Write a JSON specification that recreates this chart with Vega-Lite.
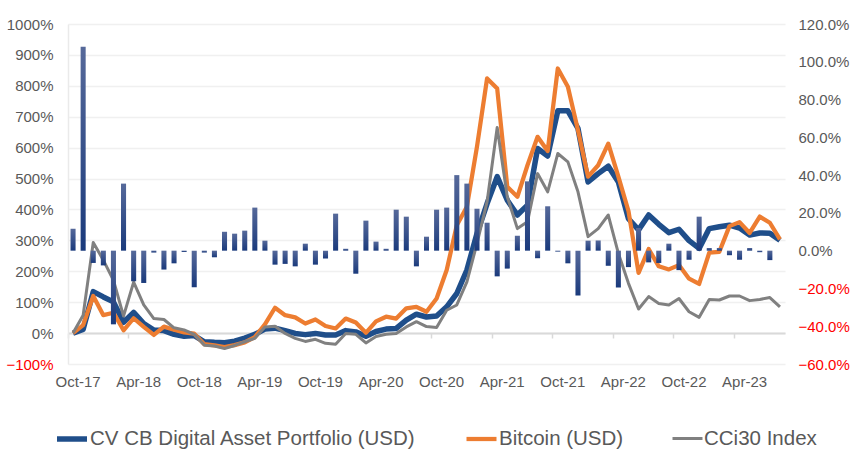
{
  "$schema": "https://vega.github.io/schema/vega-lite/v6.json",
  "width": 717,
  "height": 340,
  "autosize": {"type": "none"},
  "padding": {"left": 68, "top": 24, "right": 67, "bottom": 110},
  "background": "white",
  "config": {
    "view": {"stroke": null},
    "font": "Liberation Sans",
    "axis": {"labelFont": "Liberation Sans", "labelFontSize": 15, "labelColor": "#595959"},
    "legend": {"labelFont": "Liberation Sans"}
  },
  "data": {
    "values": [
      {"m": "Oct-17", "r": 0.116, "cv": 0, "btc": 0, "cci": 0},
      {"m": "Nov-17", "r": 1.08, "cv": 0.12, "btc": 0.26, "cci": 0.58},
      {"m": "Dec-17", "r": -0.065, "cv": 1.34, "btc": 1.2, "cci": 2.93},
      {"m": "Jan-18", "r": -0.078, "cv": 1.17, "btc": 0.58, "cci": 2.36},
      {"m": "Feb-18", "r": -0.39, "cv": 1.01, "btc": 0.66, "cci": 1.71},
      {"m": "Mar-18", "r": 0.355, "cv": 0.35, "btc": 0.09, "cci": 0.55},
      {"m": "Apr-18", "r": -0.162, "cv": 0.67, "btc": 0.48, "cci": 1.65},
      {"m": "May-18", "r": -0.171, "cv": 0.31, "btc": 0.2, "cci": 0.91},
      {"m": "Jun-18", "r": -0.01, "cv": 0.1, "btc": -0.06, "cci": 0.47},
      {"m": "Jul-18", "r": -0.1, "cv": 0.08, "btc": 0.21, "cci": 0.44},
      {"m": "Aug-18", "r": -0.067, "cv": -0.04, "btc": 0.11, "cci": 0.17},
      {"m": "Sep-18", "r": -0.007, "cv": -0.1, "btc": 0.02, "cci": 0.1},
      {"m": "Oct-18", "r": -0.194, "cv": -0.08, "btc": -0.02, "cci": -0.04},
      {"m": "Nov-18", "r": -0.01, "cv": -0.28, "btc": -0.36, "cci": -0.39},
      {"m": "Dec-18", "r": -0.035, "cv": -0.3, "btc": -0.4, "cci": -0.42},
      {"m": "Jan-19", "r": 0.1, "cv": -0.31, "btc": -0.45, "cci": -0.5},
      {"m": "Feb-19", "r": 0.09, "cv": -0.26, "btc": -0.39, "cci": -0.4},
      {"m": "Mar-19", "r": 0.106, "cv": -0.16, "btc": -0.3, "cci": -0.28},
      {"m": "Apr-19", "r": 0.228, "cv": -0.04, "btc": -0.13, "cci": -0.17},
      {"m": "May-19", "r": 0.053, "cv": 0.13, "btc": 0.28, "cci": 0.2},
      {"m": "Jun-19", "r": -0.074, "cv": 0.16, "btc": 0.82, "cci": 0.22},
      {"m": "Jul-19", "r": -0.07, "cv": 0.08, "btc": 0.58, "cci": -0.01},
      {"m": "Aug-19", "r": -0.083, "cv": -0.01, "btc": 0.51, "cci": -0.17},
      {"m": "Sep-19", "r": 0.037, "cv": -0.05, "btc": 0.31, "cci": -0.27},
      {"m": "Oct-19", "r": -0.074, "cv": -0.01, "btc": 0.44, "cci": -0.2},
      {"m": "Nov-19", "r": -0.042, "cv": -0.06, "btc": 0.23, "cci": -0.33},
      {"m": "Dec-19", "r": 0.196, "cv": -0.06, "btc": 0.15, "cci": -0.36},
      {"m": "Jan-20", "r": 0.01, "cv": 0.08, "btc": 0.47, "cci": -0.01},
      {"m": "Feb-20", "r": -0.122, "cv": 0.04, "btc": 0.34, "cci": -0.04},
      {"m": "Mar-20", "r": 0.159, "cv": -0.1, "btc": 0.01, "cci": -0.32},
      {"m": "Apr-20", "r": 0.048, "cv": 0.05, "btc": 0.38, "cci": -0.11},
      {"m": "May-20", "r": 0.01, "cv": 0.13, "btc": 0.53, "cci": -0.04},
      {"m": "Jun-20", "r": 0.217, "cv": 0.15, "btc": 0.47, "cci": -0.01},
      {"m": "Jul-20", "r": 0.18, "cv": 0.42, "btc": 0.8, "cci": 0.2},
      {"m": "Aug-20", "r": -0.083, "cv": 0.61, "btc": 0.85, "cci": 0.37},
      {"m": "Sep-20", "r": 0.074, "cv": 0.52, "btc": 0.69, "cci": 0.21},
      {"m": "Oct-20", "r": 0.217, "cv": 0.55, "btc": 1.12, "cci": 0.18},
      {"m": "Nov-20", "r": 0.228, "cv": 0.85, "btc": 2.04, "cci": 0.74},
      {"m": "Dec-20", "r": 0.4, "cv": 1.28, "btc": 3.49, "cci": 0.91},
      {"m": "Jan-21", "r": 0.355, "cv": 2.04, "btc": 4.09, "cci": 1.66},
      {"m": "Feb-21", "r": 0.222, "cv": 3.22, "btc": 6.03, "cci": 2.9},
      {"m": "Mar-21", "r": 0.148, "cv": 4.19, "btc": 8.24, "cci": 4.25},
      {"m": "Apr-21", "r": -0.136, "cv": 5.06, "btc": 7.91, "cci": 6.65},
      {"m": "May-21", "r": -0.095, "cv": 4.3, "btc": 4.73, "cci": 4.41},
      {"m": "Jun-21", "r": 0.079, "cv": 3.82, "btc": 4.41, "cci": 3.38},
      {"m": "Jul-21", "r": 0.367, "cv": 4.14, "btc": 5.43, "cci": 3.6},
      {"m": "Aug-21", "r": -0.04, "cv": 5.97, "btc": 6.35, "cci": 5.16},
      {"m": "Sep-21", "r": 0.235, "cv": 5.73, "btc": 5.89, "cci": 4.57},
      {"m": "Oct-21", "r": -0.005, "cv": 7.19, "btc": 8.56, "cci": 5.81},
      {"m": "Nov-21", "r": -0.067, "cv": 7.19, "btc": 7.97, "cci": 5.54},
      {"m": "Dec-21", "r": -0.238, "cv": 6.62, "btc": 6.56, "cci": 4.57},
      {"m": "Jan-22", "r": 0.053, "cv": 4.89, "btc": 5.06, "cci": 3.12},
      {"m": "Feb-22", "r": 0.054, "cv": 5.16, "btc": 5.43, "cci": 3.38},
      {"m": "Mar-22", "r": -0.08, "cv": 5.4, "btc": 6.13, "cci": 3.82},
      {"m": "Apr-22", "r": -0.195, "cv": 4.89, "btc": 5.06, "cci": 2.58},
      {"m": "May-22", "r": -0.087, "cv": 3.7, "btc": 3.95, "cci": 1.61},
      {"m": "Jun-22", "r": 0.12, "cv": 3.34, "btc": 1.95, "cci": 0.78},
      {"m": "Jul-22", "r": -0.062, "cv": 3.82, "btc": 2.72, "cci": 1.18},
      {"m": "Aug-22", "r": -0.065, "cv": 3.52, "btc": 2.16, "cci": 0.96},
      {"m": "Sep-22", "r": 0.037, "cv": 3.25, "btc": 2.06, "cci": 0.91},
      {"m": "Oct-22", "r": -0.103, "cv": 3.36, "btc": 2.2, "cci": 1.12},
      {"m": "Nov-22", "r": -0.048, "cv": 2.99, "btc": 1.76, "cci": 0.69},
      {"m": "Dec-22", "r": 0.18, "cv": 2.74, "btc": 1.59, "cci": 0.51},
      {"m": "Jan-23", "r": 0.014, "cv": 3.38, "btc": 2.6, "cci": 1.09},
      {"m": "Feb-23", "r": 0.014, "cv": 3.44, "btc": 2.63, "cci": 1.07},
      {"m": "Mar-23", "r": -0.024, "cv": 3.49, "btc": 3.46, "cci": 1.2},
      {"m": "Apr-23", "r": -0.048, "cv": 3.4, "btc": 3.59, "cci": 1.2},
      {"m": "May-23", "r": 0.014, "cv": 3.17, "btc": 3.24, "cci": 1.05},
      {"m": "Jun-23", "r": -0.008, "cv": 3.24, "btc": 3.77, "cci": 1.09},
      {"m": "Jul-23", "r": -0.05, "cv": 3.23, "btc": 3.57, "cci": 1.15},
      {"m": "Aug-23", "r": null, "cv": 3.0, "btc": 3.03, "cci": 0.85}
    ]
  },
  "encoding": {
    "x": {
      "field": "m",
      "type": "ordinal",
      "scale": {
        "domain": ["Oct-17","Nov-17","Dec-17","Jan-18","Feb-18","Mar-18","Apr-18","May-18","Jun-18","Jul-18","Aug-18","Sep-18","Oct-18","Nov-18","Dec-18","Jan-19","Feb-19","Mar-19","Apr-19","May-19","Jun-19","Jul-19","Aug-19","Sep-19","Oct-19","Nov-19","Dec-19","Jan-20","Feb-20","Mar-20","Apr-20","May-20","Jun-20","Jul-20","Aug-20","Sep-20","Oct-20","Nov-20","Dec-20","Jan-21","Feb-21","Mar-21","Apr-21","May-21","Jun-21","Jul-21","Aug-21","Sep-21","Oct-21","Nov-21","Dec-21","Jan-22","Feb-22","Mar-22","Apr-22","May-22","Jun-22","Jul-22","Aug-22","Sep-22","Oct-22","Nov-22","Dec-22","Jan-23","Feb-23","Mar-23","Apr-23","May-23","Jun-23","Jul-23","Aug-23"],
        "paddingInner": 0,
        "paddingOuter": 0
      },
      "axis": {
        "title": null,
        "orient": "bottom",
        "offset": -31,
        "values": ["Oct-17","Apr-18","Oct-18","Apr-19","Oct-19","Apr-20","Oct-20","Apr-21","Oct-21","Apr-22","Oct-22","Apr-23"],
        "bandPosition": 0,
        "labelOffset": 5,
        "labelAngle": 0,
        "labelAlign": "center",
        "labelBaseline": "top",
        "labelPadding": 36,
        "tickSize": 5,
        "tickColor": "#D9D9D9",
        "tickWidth": 1.5,
        "domainColor": "#D9D9D9",
        "domainWidth": 2,
        "grid": false,
        "zindex": 0
      }
    }
  },
  "layer": [
    {
      "transform": [{"fold": ["cv", "btc", "cci"], "as": ["series", "v"]}],
      "mark": {"type": "line", "strokeJoin": "round", "strokeCap": "butt"},
      "encoding": {
        "y": {
          "field": "v",
          "type": "quantitative",
          "scale": {"domain": [-1, 10], "nice": false, "zero": false},
          "axis": {
            "title": null,
            "orient": "left",
            "values": [-1, 0, 1, 2, 3, 4, 5, 6, 7, 8, 9, 10],
            "format": ".0%",
            "ticks": false,
            "labelPadding": 15,
            "domainColor": "#EAEAEA",
            "domainWidth": 1.5,
            "grid": true,
            "gridColor": "#F0F0F0",
            "gridWidth": 1.5,
            "labelColor": {"condition": {"test": "datum.value < 0", "value": "#FF0000"}, "value": "#595959"}
          }
        },
        "color": {
          "field": "series",
          "type": "nominal",
          "scale": {"domain": ["cv", "btc", "cci"], "range": ["#1F4E8A", "#ED7D31", "#808080"]},
          "legend": {
            "title": null,
            "orient": "none",
            "legendX": -14,
            "legendY": 397,
            "direction": "horizontal",
            "symbolType": "stroke",
            "symbolSize": 900,
            "labelFontSize": 20.5,
            "labelColor": "#595959",
            "labelOffset": 0,
            "labelLimit": 500,
            "columnPadding": 42,
            "padding": 0,
            "labelExpr": "datum.label == 'cv' ? 'CV CB Digital Asset Portfolio (USD)' : datum.label == 'btc' ? 'Bitcoin (USD)' : 'CCi30 Index'"
          }
        },
        "strokeWidth": {
          "field": "series",
          "type": "nominal",
          "scale": {"domain": ["cv", "btc", "cci"], "range": [5.5, 3, 3]},
          "legend": {
            "title": null,
            "orient": "none",
            "legendX": -14,
            "legendY": 397,
            "direction": "horizontal",
            "symbolType": "stroke",
            "symbolSize": 900,
            "labelFontSize": 20.5,
            "labelColor": "#595959",
            "labelOffset": 0,
            "labelLimit": 500,
            "columnPadding": 42,
            "padding": 0,
            "labelExpr": "datum.label == 'cv' ? 'CV CB Digital Asset Portfolio (USD)' : datum.label == 'btc' ? 'Bitcoin (USD)' : 'CCi30 Index'"
          }
        }
      }
    },
    {
      "mark": {
        "type": "bar",
        "width": {"band": 0.5},
        "color": {
          "gradient": "linear",
          "x1": 0, "y1": 0, "x2": 0, "y2": 1,
          "stops": [
            {"offset": 0, "color": "#56699A"},
            {"offset": 1, "color": "#1A3A7C"}
          ]
        }
      },
      "encoding": {
        "y": {
          "field": "r",
          "type": "quantitative",
          "scale": {"domain": [-0.6, 1.2], "nice": false},
          "axis": {
            "title": null,
            "orient": "right",
            "values": [-0.6, -0.4, -0.2, 0, 0.2, 0.4, 0.6, 0.8, 1.0, 1.2],
            "format": ".1%",
            "ticks": false,
            "domain": false,
            "grid": false,
            "labelPadding": 13,
            "labelColor": {"condition": {"test": "datum.value < 0", "value": "#FF0000"}, "value": "#595959"}
          }
        }
      }
    }
  ],
  "resolve": {"scale": {"y": "independent"}}
}
